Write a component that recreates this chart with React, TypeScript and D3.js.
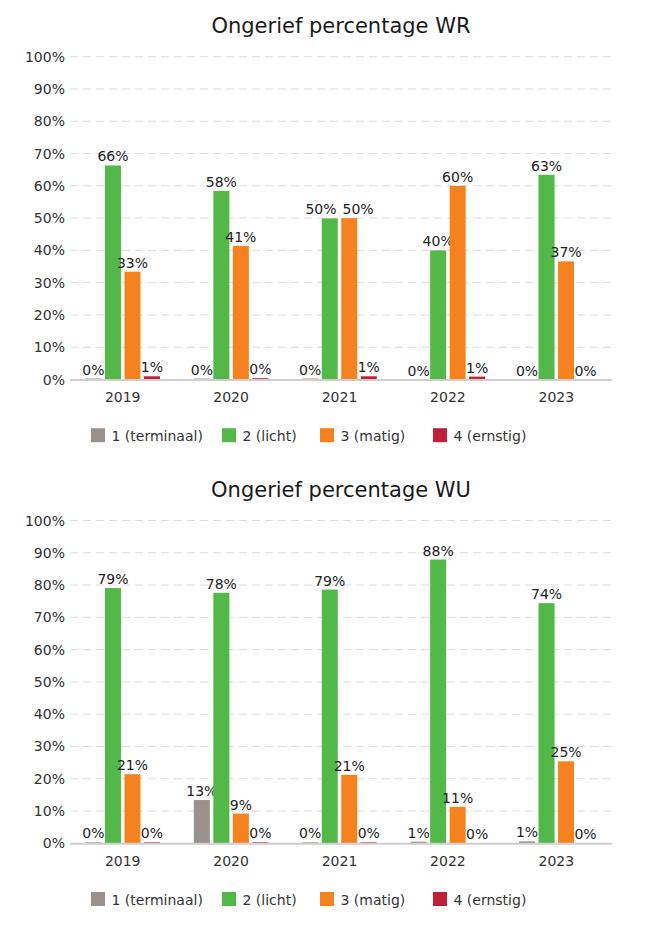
import React from "react";
import * as d3 from "d3";

const years = ["2019", "2020", "2021", "2022", "2023"];
const seriesNames = ["1 (terminaal)", "2 (licht)", "3 (matig)", "4 (ernstig)"];
const seriesColors = ["#9a918c", "#52b848", "#f6821f", "#c1203b"];
const yTicks = [0, 10, 20, 30, 40, 50, 60, 70, 80, 90, 100];

// Ongerief percentage WR
const wrTerminaal = [0.3, 0.3, 0.3, 0, 0];
const wrLicht = [66.3, 58.4, 49.9, 40.0, 63.4];
const wrMatig = [33.4, 41.4, 50.0, 60.0, 36.6];
const wrErnstig = [1.0, 0.4, 1.0, 0.9, 0];

// Ongerief percentage WU
const wuTerminaal = [0.3, 13.4, 0.3, 0.5, 0.6];
const wuLicht = [79.1, 77.6, 78.6, 87.9, 74.4];
const wuMatig = [21.4, 9.2, 21.2, 11.3, 25.4];
const wuErnstig = [0.3, 0.3, 0.3, 0, 0];

const FONT = "'DejaVu Sans', Verdana, sans-serif";
const legendX = [91, 222, 320, 433];

function labelWidth(s: string) {
  let w = 0;
  for (const c of s) w += c === "%" ? 13.3 : 8.9;
  return w;
}

function Chart({ title, series, offsetY }: { title: string; series: number[][]; offsetY: number }) {
  const top = offsetY + 56.7;
  const bottom = offsetY + 379.5;
  const y = d3.scaleLinear().domain([0, 100]).range([bottom, top]);
  const x0 = d3.scaleBand<string>().domain(years).range([68.5, 610.5]).paddingInner(0.28).paddingOuter(0.14);
  const x1 = d3.scaleBand<string>().domain(seriesNames).range([0, x0.bandwidth()]).paddingInner(0.18).paddingOuter(0.09);
  const gridLeft = 70;
  const gridRight = 612;
  const bw = x1.bandwidth();
  return (
    <g>
      <text x={341} y={offsetY + 32.7} textAnchor="middle" fontFamily={FONT} fontSize={21} fill="#1a1a1a">
        {title}
      </text>
      {yTicks.map((t) => (
        <g key={t}>
          {t > 0 && (
            <line x1={gridLeft} x2={gridRight} y1={y(t)} y2={y(t)} stroke="#dcdcdc" strokeWidth={1} strokeDasharray="8,5" />
          )}
          <text x={65} y={y(t) + 5} textAnchor="end" fontFamily={FONT} fontSize={14} fill="#333">
            {t}%
          </text>
        </g>
      ))}
      {years.map((yr, i) => {
        // label layout with simple horizontal collision avoidance
        const labels = seriesNames.map((s, j) => {
          const v = series[j][i];
          const bx = (x0(yr) as number) + (x1(s) as number);
          const txt = `${Math.round(v)}%`;
          return { s, j, v, bx, txt, cx: bx + bw / 2, ty: y(v) - 4, w: labelWidth(txt) };
        });
        for (let k = 0; k < labels.length - 1; k++) {
          const a = labels[k];
          const b = labels[k + 1];
          const vOverlap = Math.abs(a.ty - b.ty) < 13;
          const hOverlap = a.cx + a.w / 2 + 6 - (b.cx - b.w / 2);
          if (vOverlap && hOverlap > 0) {
            a.cx -= hOverlap / 2;
            b.cx += hOverlap / 2;
          }
        }
        return (
          <g key={yr}>
            {labels.map((l) => (
              <g key={l.s}>
                {l.v > 0 && <rect x={l.bx} y={y(l.v)} width={bw} height={bottom - y(l.v)} fill={seriesColors[l.j]} />}
                <text x={l.cx} y={l.ty} textAnchor="middle" fontFamily={FONT} fontSize={14} fill="#222">
                  {l.txt}
                </text>
              </g>
            ))}
            <text x={(x0(yr) as number) + x0.bandwidth() / 2} y={bottom + 22.5} textAnchor="middle" fontFamily={FONT} fontSize={14} fill="#333">
              {yr}
            </text>
          </g>
        );
      })}
      <line x1={gridLeft} x2={gridRight} y1={bottom + 0.5} y2={bottom + 0.5} stroke="#cfcfcf" strokeWidth={2} />
      {seriesNames.map((s, j) => (
        <g key={s}>
          <rect x={legendX[j]} y={bottom + 48.7} width={14} height={14} fill={seriesColors[j]} />
          <text x={legendX[j] + 20.5} y={bottom + 61.5} fontFamily={FONT} fontSize={14} fill="#333">
            {s}
          </text>
        </g>
      ))}
    </g>
  );
}

export default function App() {
  return (
    <svg width={670} height={932} style={{ position: "absolute", left: 0, top: 0, background: "#fff" }}>
      <rect x={0} y={0} width={670} height={932} fill="#fff" />
      <Chart title="Ongerief percentage WR" series={[wrTerminaal, wrLicht, wrMatig, wrErnstig]} offsetY={0} />
      <Chart title="Ongerief percentage WU" series={[wuTerminaal, wuLicht, wuMatig, wuErnstig]} offsetY={463.8} />
    </svg>
  );
}
